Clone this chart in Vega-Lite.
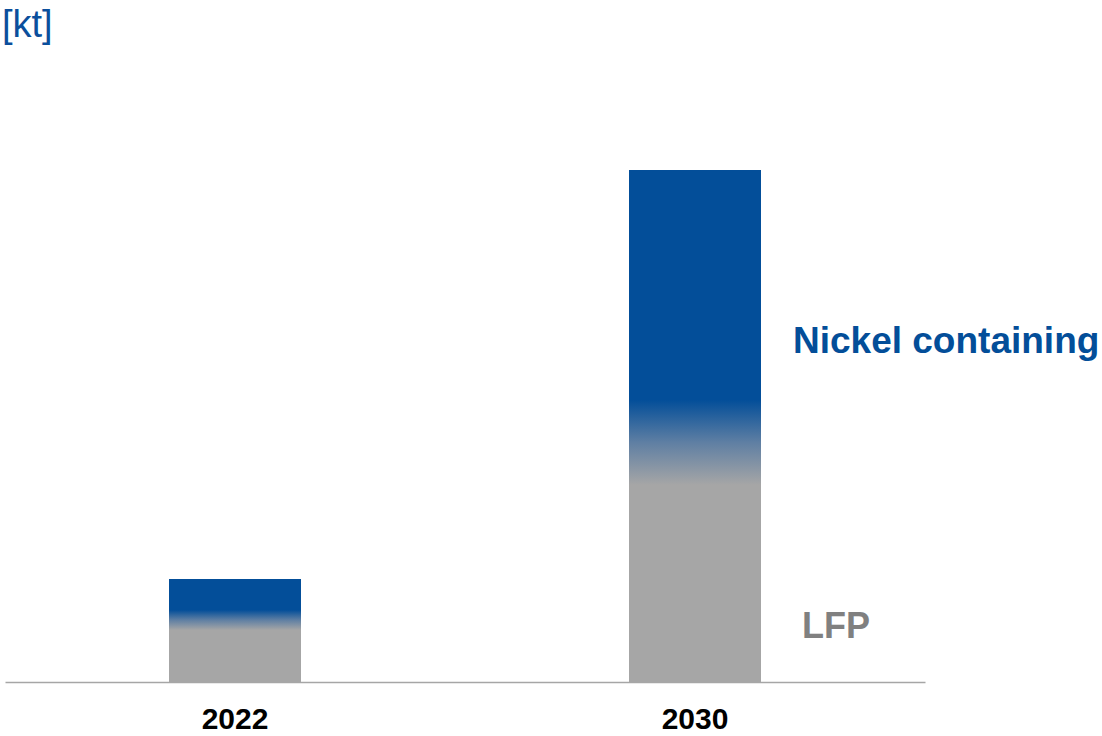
{
  "$schema": "https://vega.github.io/schema/vega-lite/v6.json",
  "width": 1102,
  "height": 632,
  "autosize": "none",
  "padding": {"top": 50, "left": 0, "right": 0, "bottom": 54},
  "background": "white",
  "config": {"view": {"stroke": null}},
  "title": {
    "text": "[kt]",
    "anchor": "start",
    "frame": "group",
    "font": "Liberation Sans",
    "fontSize": 38,
    "fontWeight": "normal",
    "color": "#0B4F9C",
    "offset": -25,
    "dx": 2,
    "baseline": "alphabetic"
  },
  "data": {
    "values": [
      {"year": "2022", "segment": "LFP", "value": 52},
      {"year": "2022", "segment": "LFP / Nickel transition", "value": 20},
      {"year": "2022", "segment": "Nickel containing", "value": 31},
      {"year": "2030", "segment": "LFP", "value": 197},
      {"year": "2030", "segment": "LFP / Nickel transition", "value": 85},
      {"year": "2030", "segment": "Nickel containing", "value": 230}
    ]
  },
  "transform": [
    {"stack": "value", "groupby": ["year"], "sort": [{"field": "segment", "order": "ascending"}], "as": ["y0", "y1"]}
  ],
  "encoding": {
    "x": {
      "field": "year",
      "type": "nominal",
      "scale": {"range": [5, 925], "paddingInner": 0, "paddingOuter": 0},
      "axis": {
        "title": null,
        "labelAngle": 0,
        "ticks": false,
        "domainColor": "#A6A6A6",
        "domainWidth": 1.5,
        "labelFont": "Liberation Sans",
        "labelFontSize": 30,
        "labelFontWeight": "bold",
        "labelColor": "#000000",
        "labelPadding": 22
      }
    }
  },
  "layer": [
    {
      "transform": [{"filter": "datum.segment !== 'LFP / Nickel transition'"}],
      "mark": {"type": "bar", "size": 132},
      "encoding": {
        "y": {"field": "y1", "type": "quantitative", "scale": {"domain": [0, 632], "nice": false, "zero": true}, "axis": null},
        "y2": {"field": "y0"},
        "color": {
          "field": "segment",
          "type": "nominal",
          "scale": {"domain": ["LFP", "Nickel containing"], "range": ["#A6A6A6", "#034E99"]},
          "legend": null
        }
      }
    },
    {
      "transform": [{"filter": "datum.segment === 'LFP / Nickel transition'"}],
      "mark": {
        "type": "bar",
        "size": 132,
        "color": {
          "gradient": "linear",
          "x1": 0, "y1": 1, "x2": 0, "y2": 0,
          "stops": [
            {"offset": 0, "color": "#A6A6A6"},
            {"offset": 0.5, "color": "#5F7FA3"},
            {"offset": 1, "color": "#034E99"}
          ]
        }
      },
      "encoding": {
        "y": {"field": "y1", "type": "quantitative"},
        "y2": {"field": "y0"}
      }
    },
    {
      "transform": [{"filter": "datum.year === '2030' && datum.segment === 'Nickel containing'"}],
      "mark": {
        "type": "text",
        "align": "left",
        "baseline": "alphabetic",
        "dx": 98,
        "dy": -47,
        "font": "Liberation Sans",
        "fontSize": 37,
        "fontWeight": "bold",
        "color": "#034E99"
      },
      "encoding": {
        "y": {"field": "y0", "type": "quantitative"},
        "text": {"field": "segment"}
      }
    },
    {
      "transform": [{"filter": "datum.year === '2030' && datum.segment === 'LFP'"}],
      "mark": {
        "type": "text",
        "align": "left",
        "baseline": "alphabetic",
        "dx": 107,
        "dy": -44,
        "font": "Liberation Sans",
        "fontSize": 36,
        "fontWeight": "bold",
        "color": "#808080"
      },
      "encoding": {
        "y": {"field": "y0", "type": "quantitative"},
        "text": {"field": "segment"}
      }
    }
  ]
}
